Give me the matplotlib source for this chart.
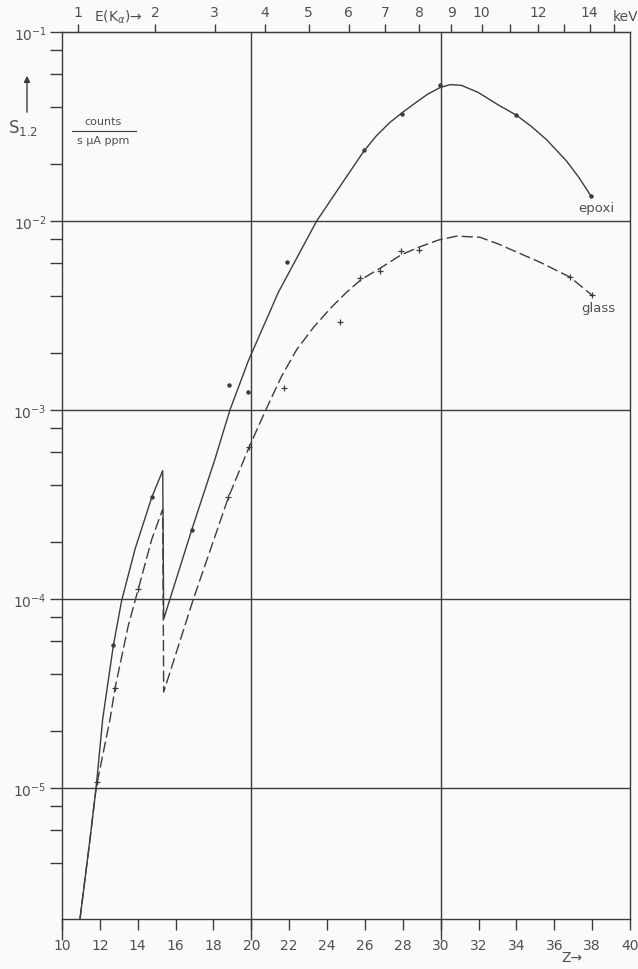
import numpy as np
import matplotlib
matplotlib.use('Agg')
import matplotlib.pyplot as plt
from matplotlib.ticker import FixedLocator, NullFormatter, LogLocator

# epoxi (solid), traced along the curve incl. the jump near Z=15.4
epoxi_z = [10.95, 11.48, 11.80, 12.15, 12.71, 13.15, 13.86, 14.74, 15.32,
           15.37, 16.85, 18.08, 18.87, 19.84, 21.43, 23.45, 24.86, 25.94, 26.60,
           27.30, 27.93, 28.60, 29.30, 29.95, 30.50, 31.10, 31.98, 33.03, 34.00,
           34.80, 35.60, 36.66, 37.30, 37.93]
epoxi_s = [2.03e-6, 5.37e-6, 1.0e-5, 2.32e-5, 5.66e-5, 9.8e-5, 1.84e-4, 3.45e-4, 4.78e-4,
           7.83e-5, 2.32e-4, 5.5e-4, 1.0e-3, 1.82e-3, 4.2e-3, 1.0e-2, 1.62e-2, 2.34e-2, 2.82e-2,
           3.31e-2, 3.72e-2, 4.17e-2, 4.68e-2, 5.07e-2, 5.27e-2, 5.22e-2, 4.79e-2, 4.12e-2, 3.63e-2,
           3.16e-2, 2.69e-2, 2.07e-2, 1.70e-2, 1.36e-2]

# glass (dashed)
glass_z = [10.95, 11.48, 11.80, 12.54, 12.80, 13.50, 14.03, 14.74, 15.32,
           15.37, 16.94, 18.79, 19.88, 20.80, 21.60, 22.40, 23.30, 24.20, 25.00,
           25.80, 26.80, 27.90, 28.80, 29.90, 30.85, 32.08, 33.00, 33.84, 35.25,
           36.84, 37.98]
glass_s = [2.03e-6, 5.37e-6, 1.0e-5, 2.32e-5, 3.37e-5, 7.23e-5, 1.13e-4, 2.07e-4, 2.99e-4,
           3.22e-5, 1.0e-4, 3.45e-4, 6.35e-4, 1.02e-3, 1.51e-3, 2.09e-3, 2.75e-3, 3.47e-3, 4.17e-3,
           4.9e-3, 5.62e-3, 6.61e-3, 7.24e-3, 7.94e-3, 8.32e-3, 8.2e-3, 7.59e-3, 6.97e-3, 6.05e-3,
           5.04e-3, 4.06e-3]

# measured points
epoxi_pts_z = [12.71, 14.74, 16.85, 18.84, 19.84, 21.87, 25.94, 27.94, 29.95, 34.00, 37.93]
epoxi_pts_s = [5.7e-5, 3.45e-4, 2.32e-4, 1.35e-3, 1.24e-3, 6.1e-3, 2.38e-2, 3.68e-2, 5.25e-2, 3.66e-2, 1.36e-2]
glass_pts_z = [11.83, 12.80, 14.03, 18.79, 19.88, 21.74, 24.69, 25.76, 26.80, 27.90, 28.84, 36.84, 37.98]
glass_pts_s = [1.07e-5, 3.37e-5, 1.13e-4, 3.45e-4, 6.35e-4, 1.3e-3, 2.91e-3, 4.98e-3, 5.46e-3,
               6.9e-3, 7.05e-3, 5.03e-3, 4.06e-3]

z_ticks = list(range(10, 41, 2))
e_ticks = [1, 2, 3, 4, 5, 6, 7, 8, 9, 10, 11, 12, 13, 14, 15]
e_labels = ['1', '2', '3', '4', '5', '6', '7', '8', '9', '10', '', '12', '', '14', '']
K_MOS = 0.0103  # E(K_alpha) ~ k (Z-1)^2, keV

ink = '#3c3c3c'
txt = '#505050'
plt.rcParams['font.family'] = ['DejaVu Sans']

fig = plt.figure(figsize=(6.38, 9.70), dpi=100, facecolor='#fafafa')
ax = fig.add_axes([62 / 638, 1 - 920 / 970, 568 / 638, 887 / 970])
ax.set_facecolor('#fafafa')

ax.plot(epoxi_z, epoxi_s, color=ink, lw=1.0)
ax.plot(glass_z, glass_s, color=ink, lw=1.0, dashes=(8, 3))
ax.plot(epoxi_pts_z, epoxi_pts_s, 'o', color=ink, ms=2.2, ls='none')
ax.plot(glass_pts_z, glass_pts_s, '+', color=ink, ms=5, mew=0.9, ls='none')

ax.set_yscale('log')
ax.set_xlim(10, 40)
ax.set_ylim(10 ** -5.693, 1e-1)

# grid at decades and Z = 20, 30
for v in [1e-2, 1e-3, 1e-4, 1e-5]:
    ax.axhline(v, color=ink, lw=1.0)
for z in [20, 30]:
    ax.axvline(z, color=ink, lw=1.0)

for sp in ax.spines.values():
    sp.set_color(ink)
    sp.set_linewidth(1.0)

ax.yaxis.set_minor_locator(LogLocator(base=10, subs=(2, 4, 6, 8), numticks=10))
ax.yaxis.set_minor_formatter(NullFormatter())
ax.set_yticks([1e-5, 1e-4, 1e-3, 1e-2, 1e-1])
ax.set_yticklabels(['10$^{-5}$', '10$^{-4}$', '10$^{-3}$', '10$^{-2}$', '10$^{-1}$'])
ax.tick_params(axis='y', which='both', direction='out', length=9, width=1.0,
               color=ink, labelcolor=txt, labelsize=10, pad=2)

ax.xaxis.remove_overlapping_locs = False
ax.set_xticks(z_ticks)
ax.set_xticklabels([str(z) for z in z_ticks])
ax.xaxis.set_minor_locator(FixedLocator([10, 20, 30]))
ax.tick_params(axis='x', which='major', direction='out', length=8, width=1.0,
               color=ink, labelcolor=txt, labelsize=10, pad=6)
ax.tick_params(axis='x', which='minor', direction='out', length=15, width=1.0, color=ink)

# energy scale on top
top = ax.secondary_xaxis('top', functions=(lambda z: K_MOS * (np.asarray(z) - 1) ** 2,
                                           lambda e: 1 + np.sqrt(np.maximum(e, 0) / K_MOS)))
top.set_xticks(e_ticks)
top.set_xticklabels(e_labels)
top.tick_params(direction='out', length=6, width=1.0, color=ink, labelcolor=txt,
                labelsize=10, pad=3)
top.spines['top'].set_color(ink)

fig.text(118 / 638, 1 - 17 / 970, 'E(K$_\\alpha$)\u2192', ha='center', va='center',
         color=txt, fontsize=10)
fig.text(613 / 638, 1 - 17 / 970, 'keV', ha='left', va='center', color=txt, fontsize=10)

# y label with arrow
fig.text(8 / 638, 1 - 128 / 970, 'S$_{1.2}$', ha='left', va='center', color=txt, fontsize=12)
fig.add_artist(matplotlib.patches.FancyArrowPatch(
    (27 / 638, 1 - 116 / 970), (27 / 638, 1 - 74 / 970), transform=fig.transFigure,
    arrowstyle='-|>', mutation_scale=9, color=ink, lw=1.0))
fig.text(103 / 638, 1 - 122 / 970, 'counts', ha='center', va='center', color=txt, fontsize=8)
fig.add_artist(matplotlib.lines.Line2D([72 / 638, 136 / 638], [1 - 132 / 970, 1 - 132 / 970],
                                       transform=fig.transFigure, color=ink, lw=0.8))
fig.text(103 / 638, 1 - 141 / 970, 's \u03bcA ppm', ha='center', va='center', color=txt, fontsize=8)

ax.text(38.2, 10 ** -1.93, 'epoxi', ha='center', va='center', color=txt, fontsize=9.5)
ax.text(38.3, 10 ** -2.455, 'glass', ha='center', va='center', color=txt, fontsize=9.5)

fig.text(572 / 638, 1 - 958 / 970, 'Z\u2192', ha='center', va='center', color=txt, fontsize=10)

fig.savefig('out.png', dpi=100, facecolor=fig.get_facecolor())
